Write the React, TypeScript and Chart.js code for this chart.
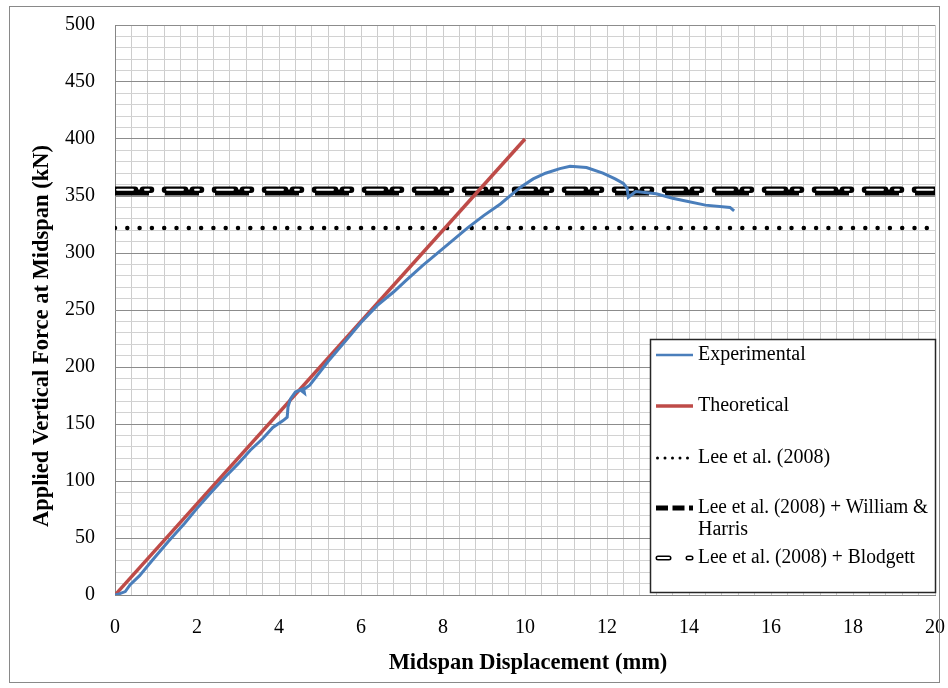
import React, { useEffect, useRef } from 'react';
import { Chart, registerables } from 'chart.js';

Chart.register(...registerables);

// ---------- data ----------
const expX = [0, 0.1, 0.25, 0.37, 0.6, 0.9, 1.3, 1.7, 2.0, 2.32, 2.7, 3.0, 3.3, 3.6, 3.85, 4.1, 4.2, 4.22, 4.28, 4.4, 4.6, 4.62, 4.55, 4.75, 5.2, 5.6, 6.0, 6.4, 6.8, 7.1, 7.5, 7.8, 8.2, 8.6, 9.0, 9.4, 9.7, 9.9, 10.2, 10.5, 10.85, 11.1, 11.5, 11.9, 12.2, 12.4, 12.49, 12.52, 12.7, 13.2, 13.6, 13.86, 14.4, 15.0, 15.1];
const expY = [0, 1, 3, 9, 17, 30, 47, 63, 76, 89, 104, 115, 127, 137, 147, 153, 156, 165, 172, 178, 181, 177, 179, 184, 205, 222, 239, 254, 266, 276, 289, 298, 310, 322, 333, 343, 352, 358, 365, 370, 374, 376, 375, 370, 365, 361, 357, 349, 354, 352, 348, 346, 342, 340, 337];
const theoX = [0, 10];
const theoY = [0, 400];
const leeValue = 322;
const williamHarrisValue = 353;
const blodgettValue = 355.5;
const xLimits = [0, 20];
const yLimits = [0, 500];
const xMajorTicks = [0, 2, 4, 6, 8, 10, 12, 14, 16, 18, 20];
const yMajorTicks = [0, 50, 100, 150, 200, 250, 300, 350, 400, 450, 500];
const xMinorStep = 0.4;
const yMinorStep = 10;
const seriesNames = ['Experimental', 'Theoretical', 'Lee et al. (2008)', 'Lee et al. (2008) + William &', 'Harris', 'Lee et al. (2008) + Blodgett'];
const xTitle = 'Midspan Displacement (mm)';
const yTitle = 'Applied Vertical Force at Midspan (kN)';

const BLUE = '#4A7EBB';
const RED = '#BE4B48';
const FONT = '"Liberation Serif", "Times New Roman", serif';

const isMajor = (v: number, list: number[]) => list.some((m) => Math.abs(m - v) < 1e-6);

const decorPlugin = {
  id: 'decor',
  beforeDraw(chart: any) {
    const { ctx, width, height } = chart;
    ctx.save();
    ctx.fillStyle = '#ffffff';
    ctx.fillRect(0, 0, width, height);
    ctx.restore();
  },
  afterDraw(chart: any) {
    const { ctx, chartArea } = chart;
    ctx.save();
    // outer border
    ctx.strokeStyle = '#898989';
    ctx.lineWidth = 1;
    ctx.strokeRect(9.5, 6.5, 930, 676);

    // axis titles
    ctx.fillStyle = '#000';
    ctx.font = `bold 22.5px ${FONT}`;
    ctx.textAlign = 'center';
    ctx.textBaseline = 'middle';
    ctx.fillText(xTitle, 528, 663);
    ctx.save();
    ctx.translate(42, 336);
    ctx.rotate(-Math.PI / 2);
    ctx.fillText(yTitle, 0, 0);
    ctx.restore();

    // legend
    const bx = chartArea.right - 285;
    const by = 339;
    const bw = 285;
    const bh = chartArea.bottom - 3 - by;
    ctx.fillStyle = '#fff';
    ctx.fillRect(bx, by, bw, bh);
    ctx.strokeStyle = '#262626';
    ctx.lineWidth = 1.5;
    ctx.strokeRect(bx + 0.5, by + 0.5, bw, bh);

    const sx0 = bx + 6;
    const sx1 = bx + 43;
    const tx = bx + 48;
    const rows = [by + 16, by + 67, by + 119, by + 169, by + 191, by + 219];
    const maxW = [240, 240, 240, 230, 240, 217];
    const line = (y: number, color: string, w: number, dash: number[], cap: CanvasLineCap, x0 = sx0, x1 = sx1) => {
      ctx.beginPath();
      ctx.strokeStyle = color;
      ctx.lineWidth = w;
      ctx.setLineDash(dash);
      ctx.lineCap = cap;
      ctx.moveTo(x0, y);
      ctx.lineTo(x1, y);
      ctx.stroke();
    };
    line(rows[0], BLUE, 2.5, [], 'butt');
    line(rows[1], RED, 3.5, [], 'butt');
    line(rows[2], '#000', 3, [0, 7.5], 'round', sx0 + 1.5, sx1);
    line(rows[3], '#000', 5, [12, 4.5], 'butt');
    // blodgett sample: outlined pill + small pill
    line(rows[5], '#000', 5, [], 'round', sx0 + 2, sx0 + 13);
    line(rows[5], '#fff', 2, [], 'round', sx0 + 2, sx0 + 13);
    line(rows[5], '#000', 5, [], 'round', sx1 - 5, sx1 - 2);
    line(rows[5], '#fff', 2, [], 'round', sx1 - 5, sx1 - 2);
    ctx.setLineDash([]);

    ctx.fillStyle = '#000';
    ctx.font = `20px ${FONT}`;
    ctx.textAlign = 'left';
    ctx.textBaseline = 'middle';
    seriesNames.forEach((name, i) => {
      ctx.fillText(name, tx, rows[i], maxW[i]);
    });
    ctx.restore();
  },
};

export default function App() {
  const canvasRef = useRef<HTMLCanvasElement | null>(null);

  useEffect(() => {
    const canvas = canvasRef.current;
    if (!canvas) return;
    const hline = (v: number) => [
      { x: xLimits[0], y: v },
      { x: xLimits[1], y: v },
    ];
    const chart = new Chart(canvas, {
      type: 'line',
      data: {
        datasets: [
          {
            label: seriesNames[0],
            data: expX.map((x, i) => ({ x, y: expY[i] })),
            borderColor: BLUE,
            borderWidth: 3,
            pointRadius: 0,
            tension: 0,
          },
          {
            label: seriesNames[1],
            data: theoX.map((x, i) => ({ x, y: theoY[i] })),
            borderColor: RED,
            borderWidth: 3.5,
            pointRadius: 0,
          },
          {
            label: 'Blodgett inner',
            data: hline(blodgettValue),
            borderColor: '#ffffff',
            borderWidth: 1.8,
            borderDash: [16, 12, 4, 18],
            borderDashOffset: -2,
            borderCapStyle: 'round',
            pointRadius: 0,
          },
          {
            label: seriesNames[5],
            data: hline(blodgettValue),
            borderColor: '#000000',
            borderWidth: 6.5,
            borderDash: [20, 8, 8, 14],
            borderCapStyle: 'round',
            pointRadius: 0,
          },
          {
            label: seriesNames[2],
            data: hline(leeValue),
            borderColor: '#000000',
            borderWidth: 4.5,
            borderDash: [0, 12.3],
            borderCapStyle: 'round',
            pointRadius: 0,
          },
          {
            label: seriesNames[3],
            data: hline(williamHarrisValue),
            borderColor: '#000000',
            borderWidth: 6,
            borderDash: [34, 16],
            borderCapStyle: 'butt',
            pointRadius: 0,
          },
        ],
      },
      options: {
        responsive: false,
        animation: false,
        devicePixelRatio: 1,
        layout: { padding: { top: 25, right: 13, left: 0, bottom: 0 } },
        plugins: { legend: { display: false }, tooltip: { enabled: false } },
        scales: {
          x: {
            type: 'linear',
            min: xLimits[0],
            max: xLimits[1],
            afterBuildTicks: (scale: any) => {
              const n = Math.round((xLimits[1] - xLimits[0]) / xMinorStep);
              const t = [];
              for (let i = 0; i <= n; i++) t.push({ value: Math.round((xLimits[0] + i * xMinorStep) * 1000) / 1000 });
              scale.ticks = t;
            },
            afterFit: (scale: any) => {
              scale.height = 93;
              scale.paddingLeft = 0;
              scale.paddingRight = 0;
              scale.paddingTop = 0;
              scale.paddingBottom = 0;
            },
            ticks: {
              autoSkip: false,
              maxRotation: 0,
              padding: 21,
              color: '#000',
              font: { family: FONT, size: 20 },
              callback: (v: any) => (isMajor(Number(v), xMajorTicks) ? String(Math.round(Number(v))) : ''),
            },
            grid: {
              drawTicks: false,
              color: '#cdcdcd',
              lineWidth: 1,
            },
            border: { display: true, color: '#868686', width: 1 },
          },
          y: {
            type: 'linear',
            min: yLimits[0],
            max: yLimits[1],
            afterFit: (scale: any) => {
              scale.width = 115;
              scale.paddingLeft = 0;
              scale.paddingRight = 0;
              scale.paddingTop = 0;
              scale.paddingBottom = 0;
            },
            ticks: {
              stepSize: yMinorStep,
              autoSkip: false,
              padding: 20,
              color: '#000',
              font: { family: FONT, size: 20 },
              callback: (v: any) => (isMajor(Number(v), yMajorTicks) ? String(Math.round(Number(v))) : ''),
            },
            grid: {
              drawTicks: false,
              color: (ctx: any) => (ctx.tick && isMajor(ctx.tick.value, yMajorTicks) ? '#8c8c8c' : '#d2d2d2'),
              lineWidth: 1,
            },
            border: { display: true, color: '#868686', width: 1 },
          },
        },
      },
      plugins: [decorPlugin],
    } as any);
    return () => chart.destroy();
  }, []);

  return (
    <div style={{ position: 'absolute', left: 0, top: 0, width: 948, height: 688 }}>
      <canvas ref={canvasRef} width={948} height={688} style={{ display: 'block', width: 948, height: 688 }} />
    </div>
  );
}
